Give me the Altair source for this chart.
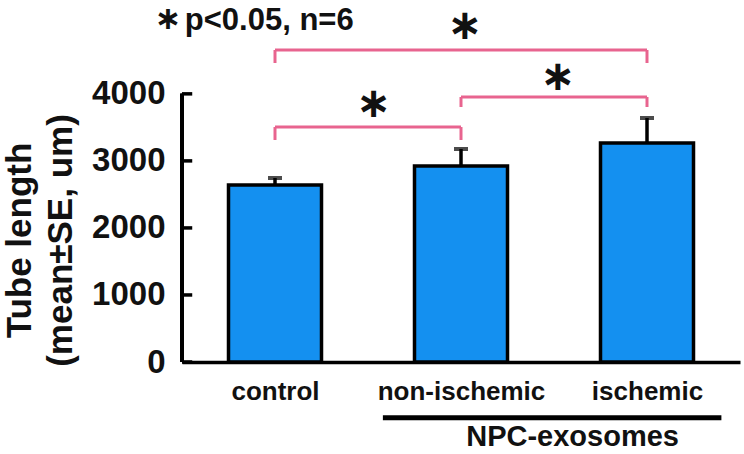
import altair as alt
import pandas as pd

# ---- data ----
categories = ["control", "non-ischemic", "ischemic"]
means = [2640, 2925, 3268]
ses = [105, 252, 372]
y_ticks = [0, 1000, 2000, 3000, 4000]

# significance brackets: (from, to, bracket level, leg end, star level)
br_from = ["control", "non-ischemic", "control"]
br_to = ["non-ischemic", "ischemic", "ischemic"]
br_top = [3505, 3953, 4654]
br_bottom = [3312, 3804, 4460]
star_y = [3845, 4255, 5010]

group_label = "NPC-exosomes"
group_members = ["non-ischemic", "ischemic"]
note_star = "\u2217"
note_text = "p<0.05, n=6"
y_title = ["Tube length", "(mean\u00b1SE, um)"]

BLUE = "#1490F0"
PINK = "#E8648F"
FONT = "Liberation Sans"

idx = {c: i for i, c in enumerate(categories)}

bars = pd.DataFrame({"cat": categories, "pos": [idx[c] for c in categories],
                     "mean": means, "se": ses})
bars["lo"] = bars["pos"] - 0.25
bars["hi_x"] = bars["pos"] + 0.25
bars["top"] = bars["mean"] + bars["se"]

br = pd.DataFrame({"x1": [idx[c] for c in br_from], "x2": [idx[c] for c in br_to],
                   "top": br_top, "bottom": br_bottom, "sy": star_y})
br["mid"] = (br["x1"] + br["x2"]) / 2 + pd.Series([0.03, 0.02, 0.02])

ticks = pd.DataFrame({"v": y_ticks})

xs = alt.Scale(domain=[-0.5, 2.5], nice=False, zero=False)
ys = alt.Scale(domain=[0, 5400], nice=False, zero=True)

label_expr = "[" + ",".join("'" + c + "'" for c in categories) + "][datum.value]"

base_bar = alt.Chart(bars).mark_bar(fill=BLUE, stroke="black", strokeWidth=3.5).encode(
    x=alt.X("lo:Q", scale=xs, axis=alt.Axis(
        values=[idx[c] for c in categories], labelExpr=label_expr, title=None,
        domain=True, domainColor="black", domainWidth=3.5, ticks=False, grid=False,
        labelFont=FONT, labelFontSize=26, labelFontWeight="bold", labelColor="#111",
        labelPadding=16)),
    x2="hi_x:Q",
    y=alt.Y("mean:Q", scale=ys, axis=alt.Axis(
        values=y_ticks, format="d", title=y_title, domain=False, ticks=False, grid=False,
        labelFont=FONT, labelFontSize=33, labelFontWeight="bold", labelColor="#111",
        labelPadding=17, titleFont=FONT, titleFontSize=35, titleFontWeight="bold",
        titleColor="#111", titleLineHeight=41, titlePadding=13, titleY=240)),
    y2=alt.datum(0),
)

err = alt.Chart(bars).mark_rule(color="black", strokeWidth=3.5).encode(
    x="pos:Q", y="mean:Q", y2="top:Q")
cap = alt.Chart(bars).mark_tick(orient="horizontal", size=14, thickness=4, color="black").encode(
    x="pos:Q", y="top:Q")

yline = alt.Chart(ticks).mark_rule(color="black", strokeWidth=3.5).encode(
    x=alt.datum(-0.5), y=alt.datum(0), y2=alt.datum(4000))
ytick = alt.Chart(ticks).mark_rule(color="black", strokeWidth=3.5).encode(
    x=alt.datum(-0.5), x2=alt.datum(-0.445), y="v:Q")

h = alt.Chart(br).mark_rule(color=PINK, strokeWidth=3).encode(x="x1:Q", x2="x2:Q", y="top:Q")
l1 = alt.Chart(br).mark_rule(color=PINK, strokeWidth=3).encode(x="x1:Q", y="top:Q", y2="bottom:Q")
l2 = alt.Chart(br).mark_rule(color=PINK, strokeWidth=3).encode(x="x2:Q", y="top:Q", y2="bottom:Q")
stars = alt.Chart(br).mark_text(text=note_star, font="DejaVu Sans", fontSize=42, fontWeight="bold",
                                color="#111", baseline="middle", align="center").encode(
    x="mid:Q", y="sy:Q")

gl = pd.DataFrame({"a": [idx[group_members[0]] - 0.42], "b": [idx[group_members[1]] + 0.4],
                   "y": [-830], "tx": [1.6], "ty": [-1119], "label": [group_label]})
gline = alt.Chart(gl).mark_rule(color="black", strokeWidth=5).encode(x="a:Q", x2="b:Q", y="y:Q")
gtext = alt.Chart(gl).mark_text(font=FONT, fontSize=29, fontWeight="bold", color="#111",
                                baseline="middle", align="center").encode(
    x="tx:Q", y="ty:Q", text="label:N")

note = pd.DataFrame({"sx": [-0.575], "sy": [5120], "tx": [-0.485], "ty": [5080], "t": [note_text]})
nstar = alt.Chart(note).mark_text(text=note_star, font="DejaVu Sans", fontSize=32, fontWeight="bold",
                                  color="#111", baseline="middle", align="center").encode(
    x="sx:Q", y="sy:Q")
ntext = alt.Chart(note).mark_text(font=FONT, fontSize=31, fontWeight="bold", color="#111",
                                  baseline="middle", align="left").encode(
    x="tx:Q", y="ty:Q", text="t:N")

chart = alt.layer(base_bar, err, cap, yline, ytick, h, l1, l2, stars, gline, gtext, nstar, ntext).properties(
    width=558, height=362,
    autosize=alt.AutoSizeParams(type="none"),
    padding={"left": 182, "top": 0, "right": 4, "bottom": 92},
).configure_view(stroke=None)

chart.save("out.html", embed_options={"renderer": "svg", "actions": False})
